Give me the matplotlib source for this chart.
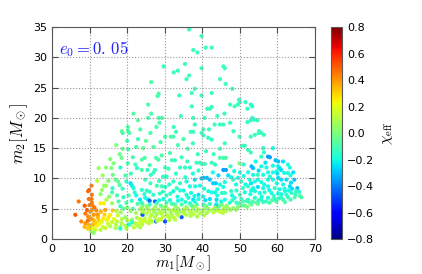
import matplotlib
matplotlib.use("Agg")
import matplotlib.pyplot as plt
import numpy as np

plt.rcParams['mathtext.fontset'] = 'cm'
plt.rcParams['font.family'] = 'DejaVu Sans'

# (m1, m2, chi_eff), grouped by region
upper_pts = [
    (36.5, 34.6, -.12), (39.8, 33.5, -.12), (40.9, 31.6, -.12), (42.5, 31.6, -.12),
    (37.6, 31.2, -.12), (38.7, 30.8, -.12), (35.4, 28.9, -.12), (39.8, 28.2, -.12),
    (45.6, 28.5, -.12), (46.0, 28.2, -.12), (36.5, 27.0, -.12), (35.8, 26.4, -.12),
    (44.7, 26.4, -.12), (46.2, 25.6, -.12), (48.0, 24.8, -.12), (38.0, 24.8, -.12),
    (37.2, 24.1, -.12), (39.8, 23.7, -.12), (42.5, 24.1, -.12), (49.8, 23.0, -.15),
    (50.0, 22.6, -.15), (49.5, 22.2, -.15), (51.5, 22.6, -.15), (52.9, 22.2, -.15),
    (53.3, 21.9, -.15), (47.4, 22.2, -.12), (48.6, 21.9, -.12), (52.0, 21.5, -.15),
    (37.2, 21.9, -.12), (41.3, 21.5, -.12), (42.0, 21.5, -.12), (42.5, 21.8, -.12),
    (45.9, 20.7, -.12), (44.0, 20.3, -.12), (37.6, 20.0, -.12), (40.6, 20.0, -.12),
    (53.3, 20.0, -.15), (53.8, 19.7, -.15), (52.9, 19.6, -.15), (54.7, 19.6, -.15),
    (52.0, 19.3, -.15), (47.4, 19.2, -.12), (38.0, 18.9, -.12), (43.3, 18.9, -.12),
    (44.7, 18.9, -.12), (45.6, 18.9, -.12), (40.3, 18.1, -.12), (41.8, 18.1, -.12),
    (36.9, 17.7, -.12), (37.6, 17.7, -.12), (48.3, 17.8, -.15), (55.1, 17.8, -.15),
    (29.7, 28.5, -.12), (32.4, 27.5, -.12), (33.5, 27.8, -.12), (26.4, 25.9, -.1),
    (28.4, 24.0, -.1), (28.1, 23.6, -.1), (25.6, 22.2, -.1), (33.9, 23.7, -.12),
    (21.7, 20.7, -.08), (26.4, 20.7, -.1), (25.6, 20.0, -.1), (28.4, 20.0, -.1),
    (29.3, 20.0, -.1), (22.9, 19.6, -.08), (28.6, 19.2, -.1), (20.2, 18.5, -.08),
    (20.2, 17.9, -.08), (23.5, 18.1, -.1), (27.8, 18.5, -.1), (32.4, 18.5, -.12),
    (18.6, 17.8, -.05), (34.3, 20.3, -.12), (26.2, 17.5, -.1), (33.0, 17.7, -.12),
]

left_pts = [
    (18.8, 17.5, -.1), (20.6, 17.5, -.1), (22.9, 16.5, -.12), (17.1, 15.5, 0.0),
    (18.8, 14.9, -.05), (18.0, 14.0, -.02), (18.5, 13.4, -.05), (16.4, 12.5, 0.0),
    (14.4, 11.8, 0.02), (15.8, 11.7, 0.0), (12.4, 11.7, 0.05), (18.2, 11.8, -.15),
    (20.2, 12.5, -.1), (22.2, 12.3, -.12), (22.6, 11.7, -.15), (12.0, 9.6, 0.12),
    (16.9, 9.8, -.05), (17.6, 9.5, -.05), (13.8, 8.8, 0.05), (14.4, 8.8, 0.05),
    (10.5, 8.8, 0.45), (9.9, 8.1, 0.5), (9.6, 7.9, 0.48), (10.6, 7.3, 0.45),
    (13.3, 8.1, 0.05), (12.9, 7.4, 0.03), (16.1, 8.4, -.15), (16.0, 7.7, -.1),
    (18.8, 8.3, -.15), (20.9, 9.2, -.25), (21.3, 8.8, -.22), (21.7, 8.4, -.2),
    (9.8, 6.6, 0.45), (10.5, 6.6, 0.45), (19.0, 6.9, -.15), (20.4, 7.2, -.1),
    (22.0, 7.7, -.15), (22.4, 7.2, -.2), (7.1, 6.2, 0.45), (12.9, 5.9, 0.25),
    (13.8, 5.9, 0.25), (8.7, 5.5, 0.5), (16.0, 5.9, 0.05), (17.7, 6.2, -.1),
    (18.2, 5.4, -.15), (10.6, 4.8, 0.42), (10.2, 4.5, 0.4), (11.8, 4.7, 0.42),
    (14.2, 4.8, 0.38), (16.2, 4.7, 0.3), (19.0, 5.0, -.05), (20.0, 5.2, 0.0),
    (20.9, 4.6, 0.05), (21.5, 5.0, -.1), (6.2, 4.0, 0.5), (8.9, 4.2, 0.45),
    (9.6, 3.7, 0.42), (11.1, 4.0, 0.4), (12.2, 4.0, 0.4), (14.0, 4.0, 0.3),
    (15.5, 4.0, 0.25), (7.8, 2.9, 0.42), (8.9, 2.6, 0.4), (9.8, 3.2, 0.38),
    (11.1, 3.1, 0.35), (12.4, 3.1, 0.3), (13.3, 2.9, 0.2), (14.6, 3.1, 0.2),
    (16.0, 2.8, 0.15), (17.3, 2.9, 0.12), (18.6, 3.3, 0.1), (20.0, 3.1, 0.1),
    (21.3, 3.2, 0.05), (22.6, 3.5, 0.08), (8.7, 2.0, 0.35), (9.6, 1.7, 0.3),
    (10.2, 1.5, 0.25), (11.1, 1.8, 0.2), (11.5, 1.5, 0.15), (12.9, 1.5, 0.12),
    (14.2, 1.8, 0.12), (15.5, 2.1, 0.1), (16.9, 1.8, 0.1), (18.2, 2.0, 0.08),
    (19.5, 2.2, 0.1), (20.9, 2.4, 0.08), (22.2, 2.6, 0.1), (10.5, 1.2, 0.05),
    (11.1, 1.0, 0.02), (18.2, 1.7, -.2), (20.4, 2.4, -.2), (21.3, 2.8, -.15),
    (9.3, 4.8, 0.5), (10.0, 5.6, 0.45), (10.8, 5.5, 0.42), (9.5, 3.0, 0.45),
    (10.4, 3.4, 0.4), (10.9, 2.4, 0.35), (11.6, 2.7, 0.3), (12.0, 2.2, 0.25),
    (9.8, 2.3, 0.35), (10.1, 1.9, 0.3), (12.5, 2.5, 0.2), (13.5, 2.0, 0.15),
    (14.9, 2.5, 0.15), (17.0, 2.4, 0.1), (18.5, 2.6, 0.1), (10.6, 6.0, 0.45),
    (11.3, 5.2, 0.45), (13.0, 4.5, 0.35), (15.0, 3.5, 0.25), (16.5, 3.3, 0.2),
    (19.5, 3.6, 0.05), (12.2, 3.6, 0.35), (13.6, 3.4, 0.25), (17.5, 3.9, 0.15),
    (13.5, 10.5, 0.05), (15.0, 9.6, 0.0), (16.2, 10.6, -.02), (19.5, 10.5, -.1),
    (21.0, 10.8, -.12), (19.8, 9.5, -.15), (15.2, 7.0, 0.02), (17.3, 7.2, -.1),
    (14.5, 6.5, 0.1), (18.0, 8.9, -.1), (20.3, 14.8, -.08), (21.5, 13.5, -.1),
    (22.4, 15.2, -.1), (20.0, 16.2, -.1), (15.5, 13.2, 0.0), (19.8, 6.0, -.1),
    (21.2, 6.3, -.15), (22.8, 5.8, -.1), (17.2, 4.6, 0.1), (18.3, 4.4, 0.05),
    (22.4, 4.3, 0.08),
]

middle_pts = [
    (30.1, 16.9, -.1), (31.6, 16.9, -.1), (32.3, 16.9, -.1), (39.8, 17.5, -.15),
    (40.3, 17.1, -.15), (41.6, 16.7, -.15), (42.5, 16.4, -.15), (24.3, 15.0, -.05),
    (28.9, 16.0, -.1), (36.1, 14.9, -.1), (44.7, 14.9, -.12), (23.9, 13.1, -.08),
    (24.7, 13.4, -.08), (27.7, 13.4, -.1), (28.3, 13.1, -.1), (29.2, 13.8, -.1),
    (31.4, 14.2, -.1), (31.9, 13.0, -.12), (32.7, 13.0, -.12), (38.5, 12.6, -.12),
    (39.4, 12.6, -.12), (42.5, 12.6, -.12), (43.4, 12.3, -.15), (44.7, 13.4, -.1),
    (45.6, 13.4, -.1), (46.3, 13.4, -.1), (45.6, 11.4, -.35), (46.3, 11.4, -.35),
    (23.9, 11.4, -.1), (25.4, 11.4, -.15), (27.4, 11.4, -.15), (30.1, 11.8, -.12),
    (31.0, 11.6, -.1), (34.1, 11.8, -.15), (35.4, 11.8, -.15), (36.7, 11.8, -.15),
    (39.8, 12.4, -.12), (40.7, 12.4, -.12), (26.3, 10.6, -.15), (27.1, 11.0, -.12),
    (29.6, 10.3, -.15), (30.5, 10.3, -.15), (40.3, 10.1, -.3), (41.2, 10.1, -.3),
    (42.0, 9.8, -.3), (24.8, 9.8, -.12), (32.3, 9.5, -.15), (34.1, 9.2, -.15),
    (42.9, 9.2, -.28), (43.6, 9.2, -.28), (27.9, 8.8, -.12), (29.2, 8.7, -.12),
    (30.1, 8.6, -.15), (36.7, 8.7, -.2), (38.1, 8.7, -.2), (39.4, 8.8, -.2),
    (44.7, 9.0, -.2), (45.6, 8.6, -.2), (23.9, 8.1, -.15), (25.2, 8.0, -.15),
    (32.3, 7.9, -.2), (34.1, 8.0, -.15), (41.6, 7.9, -.2), (42.5, 7.7, -.2),
    (43.4, 7.7, -.2), (27.0, 7.3, -.15), (28.7, 7.5, -.12), (30.5, 7.2, -.15),
    (35.8, 7.3, -.2), (39.0, 7.3, -.25), (45.2, 7.6, -.15), (46.0, 7.6, -.15),
    (23.4, 6.5, -.25), (25.6, 6.5, -.25), (26.0, 6.3, -.42), (27.4, 6.2, -.42),
    (29.6, 6.6, -.2), (31.4, 6.4, -.2), (34.5, 6.5, -.2), (36.3, 6.8, -.2),
    (37.6, 6.5, -.25), (39.0, 6.6, -.2), (42.0, 6.6, -.25), (43.8, 6.5, -.25),
    (46.0, 6.5, -.2), (24.1, 5.7, -.1), (26.0, 5.7, -.15), (27.9, 5.9, -.1),
    (31.9, 5.8, -.1), (32.7, 5.7, -.12), (34.5, 5.7, -.1), (36.7, 5.9, -.15),
    (38.5, 5.7, -.15), (40.3, 5.7, -.12), (42.0, 5.8, -.15), (43.8, 5.8, -.2),
    (45.2, 5.7, 0.0), (46.5, 5.5, 0.05),
    (25.0, 16.2, -.05), (27.0, 15.2, -.08), (33.5, 15.5, -.1), (35.0, 16.5, -.1),
    (37.5, 15.8, -.12), (38.8, 14.0, -.12), (41.0, 14.5, -.12), (43.0, 14.0, -.12),
    (46.0, 15.8, -.12), (34.5, 13.5, -.12), (36.0, 12.8, -.12), (26.0, 12.2, -.1),
    (33.0, 10.8, -.15), (35.5, 10.2, -.15), (37.5, 10.8, -.2), (39.0, 11.3, -.15),
    (42.8, 11.0, -.2), (44.3, 10.5, -.25), (28.5, 9.6, -.15), (31.2, 9.0, -.15),
    (35.8, 9.5, -.2), (38.0, 9.8, -.25), (39.8, 10.0, -.3), (26.2, 9.2, -.12),
    (33.2, 8.4, -.15), (35.0, 8.0, -.2), (37.0, 7.6, -.2), (40.5, 8.3, -.2),
    (44.0, 8.2, -.2), (46.0, 9.4, -.2), (24.6, 7.4, -.15), (26.0, 7.8, -.15),
    (29.5, 7.8, -.15), (31.5, 7.5, -.15), (33.4, 7.0, -.2), (37.9, 7.1, -.2),
    (40.2, 7.0, -.2), (44.0, 7.2, -.2), (24.8, 6.8, -.2), (28.5, 6.4, -.2),
    (30.5, 6.0, -.12), (33.5, 6.3, -.2), (35.5, 6.1, -.15), (38.0, 6.2, -.2),
    (40.8, 6.4, -.25), (45.0, 6.2, -.2), (23.9, 6.0, -.15), (29.0, 5.5, -.05),
    (37.2, 5.5, -.1), (41.0, 5.4, -.1), (44.5, 5.4, -.05),
]

# the dense low-m2 band, mostly yellow-green
band_pts = [
    (23.4, 4.9, 0.08), (24.5, 4.8, 0.1), (25.6, 5.0, 0.05), (26.9, 4.9, 0.1),
    (28.3, 4.8, 0.08), (29.6, 5.0, 0.05), (31.0, 4.9, 0.1), (32.3, 4.8, 0.08),
    (33.6, 5.0, 0.05), (35.0, 4.9, 0.08), (36.3, 4.8, 0.1), (37.6, 5.0, 0.05),
    (39.0, 4.9, 0.08), (40.3, 4.8, 0.05), (41.6, 5.0, 0.05), (43.0, 4.9, 0.08),
    (44.3, 4.8, 0.05), (45.6, 4.9, 0.1), (23.9, 4.1, 0.1), (25.2, 4.2, 0.12),
    (26.5, 4.0, 0.1), (27.9, 4.1, 0.08), (29.2, 4.2, 0.1), (30.5, 4.0, 0.12),
    (31.9, 4.1, 0.1), (33.2, 4.2, 0.08), (35.8, 4.0, 0.1), (37.6, 4.1, 0.12),
    (39.4, 4.2, 0.1), (41.2, 4.3, 0.08), (42.9, 4.4, 0.12), (44.7, 4.5, 0.15),
    (46.3, 4.6, 0.12), (23.4, 3.3, 0.15), (24.7, 3.4, 0.12), (26.0, 3.2, 0.15),
    (28.7, 3.3, 0.12), (31.4, 3.5, 0.1), (32.3, 3.6, 0.12), (23.4, 2.7, 0.15),
    (25.2, 2.8, 0.15), (26.5, 2.9, 0.12), (24.1, 4.0, -.45), (27.7, 2.9, -.42),
    (30.1, 2.9, -.5), (34.5, 3.6, -.45), (43.6, 5.4, -.3), (36.9, 3.8, 0.1),
    (38.6, 3.7, 0.08), (40.5, 3.9, 0.1), (34.0, 4.5, 0.05), (27.2, 4.5, 0.05),
    (24.0, 5.3, 0.05), (25.2, 5.4, 0.05), (27.5, 5.3, 0.05), (30.3, 5.4, 0.02),
    (32.9, 5.3, 0.05), (35.8, 5.3, 0.05), (38.2, 5.4, 0.05), (40.8, 5.3, 0.02),
    (43.5, 5.2, 0.05), (46.0, 5.2, 0.05), (24.2, 4.5, 0.1), (25.8, 4.6, 0.1),
    (28.8, 4.5, 0.1), (30.0, 4.6, 0.05), (31.6, 4.5, 0.08), (33.0, 4.6, 0.1),
    (35.2, 4.5, 0.08), (36.8, 4.5, 0.1), (38.4, 4.6, 0.08), (40.0, 4.5, 0.1),
    (41.8, 4.7, 0.08), (43.4, 4.6, 0.1), (26.2, 3.7, 0.12), (27.4, 3.6, 0.1),
    (29.5, 3.7, 0.12), (30.8, 3.8, 0.1), (33.6, 3.9, 0.12), (35.1, 4.2, 0.12),
    (37.0, 4.4, 0.1), (24.3, 3.0, 0.15), (25.8, 2.6, 0.12), (28.0, 3.0, 0.12),
    (29.0, 3.2, 0.15), (31.2, 3.1, 0.12), (32.8, 3.2, 0.12), (22.8, 2.2, 0.12),
    (24.0, 2.4, 0.12), (21.8, 1.9, 0.12), (19.8, 1.7, 0.1), (23.5, 1.9, 0.1),
]

right_pts = [
    (49.9, 16.9, -.12), (52.9, 16.9, -.12), (54.0, 17.2, -.12), (55.0, 17.5, -.12),
    (55.7, 17.5, -.12), (56.4, 17.2, -.12), (50.6, 15.4, -.12), (51.3, 15.4, -.12),
    (52.2, 14.7, -.12), (52.9, 14.3, -.12), (56.2, 15.0, -.15), (56.4, 14.3, -.15),
    (58.8, 15.0, -.2), (60.2, 12.8, -.3), (57.5, 13.6, -.35), (58.0, 13.5, -.35),
    (55.7, 13.6, -.15), (49.9, 12.5, 0.0), (53.1, 12.0, -.3), (53.5, 11.7, -.3),
    (55.7, 12.0, -.2), (57.1, 11.8, -.2), (58.8, 12.1, -.2), (60.2, 12.0, -.2),
    (60.6, 11.7, -.25), (61.0, 11.4, -.25), (62.8, 12.3, -.2), (63.3, 11.8, -.2),
    (61.8, 10.9, -.2), (62.8, 10.9, -.2), (63.5, 10.5, -.2), (52.2, 11.0, -.2),
    (53.5, 10.6, -.2), (54.8, 10.6, -.15), (56.2, 10.6, -.2), (57.5, 11.0, -.2),
    (58.8, 11.0, -.2), (52.6, 9.8, -.2), (54.0, 9.5, -.2), (54.8, 9.8, -.2),
    (55.7, 9.4, -.2), (57.5, 9.8, -.2), (58.8, 9.8, -.2), (60.2, 10.1, -.25),
    (61.0, 9.8, -.25), (62.4, 9.8, -.25), (48.2, 9.8, -.15), (49.5, 10.1, -.2),
    (50.4, 9.5, -.15), (46.9, 10.5, -.25), (47.7, 10.2, -.2), (65.3, 8.4, -.3),
    (63.3, 8.7, -.25), (63.9, 8.3, -.25), (50.8, 8.4, -.15), (52.2, 8.7, -.15),
    (53.5, 8.4, -.2), (54.8, 8.6, -.25), (56.2, 8.4, -.2), (57.5, 8.7, -.2),
    (59.3, 8.4, -.15), (60.6, 8.2, -.2), (61.9, 8.3, -.2), (47.7, 7.9, -.15),
    (49.1, 8.0, -.15), (51.3, 7.7, -.2), (55.3, 7.6, -.2), (56.6, 7.7, -.15),
    (58.4, 7.6, -.2), (60.2, 7.5, -.2), (62.4, 7.3, -.15), (63.7, 7.6, -.15),
    (65.0, 7.9, -.15), (66.4, 6.9, -.1), (66.0, 7.1, -.1), (48.6, 6.8, -.2),
    (50.4, 6.6, -.15), (52.2, 6.5, -.15), (54.0, 6.8, -.15), (55.7, 6.5, -.15),
    (57.5, 6.8, -.2), (59.3, 6.6, -.15), (61.0, 6.8, -.15), (62.8, 6.9, -.15),
    (64.6, 6.9, -.1), (47.3, 6.0, -.15), (49.1, 6.0, -.15), (50.8, 6.2, -.1),
    (52.6, 6.0, -.1), (54.4, 6.0, -.1), (56.2, 6.1, -.15), (57.9, 6.0, -.1),
    (59.7, 6.2, -.1), (61.5, 6.5, -.1), (46.9, 5.1, 0.05), (48.2, 5.1, 0.05),
    (49.5, 5.3, 0.0), (51.3, 5.5, -.05), (53.1, 5.7, -.05), (54.8, 5.8, -.05),
    (47.5, 12.0, -.15), (48.5, 11.2, -.2), (50.0, 11.0, -.2), (51.0, 12.3, -.15),
    (54.2, 12.8, -.2), (56.8, 12.6, -.25), (59.5, 13.0, -.3), (61.5, 12.8, -.25),
    (59.8, 11.2, -.2), (64.2, 11.0, -.25), (64.5, 9.8, -.3), (63.6, 9.3, -.25),
    (49.0, 9.0, -.2), (51.5, 9.0, -.2), (53.0, 9.2, -.25), (56.5, 9.0, -.2),
    (59.8, 9.2, -.2), (61.5, 9.0, -.2), (50.0, 7.3, -.15), (52.8, 7.4, -.2),
    (54.0, 7.9, -.2), (57.8, 8.1, -.2), (59.0, 7.1, -.15), (61.0, 7.4, -.2),
    (64.8, 7.4, -.15), (47.9, 7.2, -.2), (49.8, 5.9, -.1), (51.8, 6.3, -.15),
    (53.4, 6.2, -.1), (55.0, 6.4, -.15), (56.9, 6.2, -.15), (58.6, 6.4, -.1),
    (60.4, 6.7, -.15), (62.0, 6.1, -.1), (63.5, 6.5, -.1), (48.0, 6.4, -.15),
    (50.5, 5.5, -.05), (52.0, 5.3, 0.0), (47.5, 4.8, 0.05), (45.5, 4.3, 0.1),
    (49.0, 4.8, 0.05), (55.8, 7.0, -.2), (53.0, 8.0, -.2), (58.0, 10.3, -.2),
    (60.0, 10.8, -.25), (51.0, 10.4, -.2), (55.0, 11.3, -.25), (63.0, 8.0, -.2),
    (65.8, 7.8, -.15), (62.0, 7.9, -.2),
]

cbar_ticks = [-0.8, -0.6, -0.4, -0.2, 0.0, 0.2, 0.4, 0.6, 0.8]

pts = np.array(upper_pts + left_pts + middle_pts + band_pts + right_pts)
m1, m2, chi_eff = pts[:, 0], pts[:, 1], pts[:, 2]

fig = plt.figure(figsize=(4.22, 2.74), dpi=100)
ax = fig.add_axes([0.1232, 0.1277, 0.6232, 0.7737])
cax = fig.add_axes([0.7844, 0.1277, 0.026, 0.7737])

sc = ax.scatter(m1, m2, c=chi_eff, cmap='jet', vmin=-0.8, vmax=0.8,
                s=9, linewidths=0)

ax.set_xlim(0, 70)
ax.set_ylim(0, 35)
ax.set_xticks(range(0, 71, 10))
ax.set_yticks(range(0, 36, 5))
ax.grid(True, color='0.6', linestyle=':', linewidth=0.8)
ax.tick_params(direction='in', top=True, right=True, length=4,
               labelsize=8, color='0.3')
for sp in ax.spines.values():
    sp.set_color('0.35')
ax.set_xlabel(r'$m_1[M_\odot]$', fontsize=11, labelpad=0)
ax.set_ylabel(r'$m_2[M_\odot]$', fontsize=12, labelpad=2)
ax.text(0.025, 0.945, r'$e_0=0.\,05$', transform=ax.transAxes,
        color='#2020ff', fontsize=12, va='top', ha='left')

cb = fig.colorbar(sc, cax=cax, ticks=cbar_ticks)
cb.ax.tick_params(labelsize=8, length=0)
cb.outline.set_edgecolor('0.35')
cb.set_label(r'$\chi_{\rm eff}$', fontsize=11)

fig.savefig('out.png', dpi=100)
